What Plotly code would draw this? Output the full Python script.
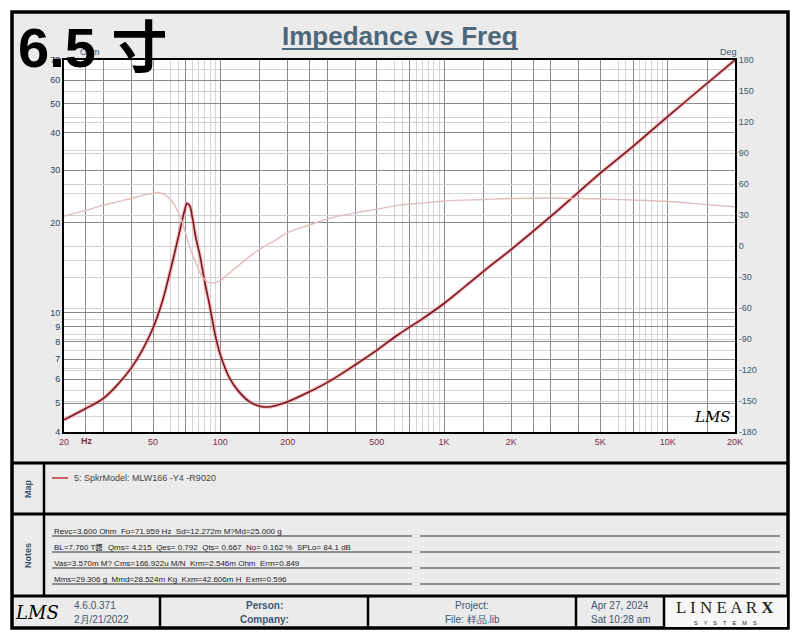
import plotly.graph_objects as go

# impedance magnitude (Hz, Ohm)
imp_freq = [20, 25, 30, 35, 40, 45, 50, 55, 60, 63, 66, 69, 71, 73, 75, 78, 81,
            85, 90, 95, 100, 110, 120, 135, 150, 165, 180, 200, 250, 300, 400,
            500, 630, 800, 1000, 1250, 1600, 2000, 3000, 5000, 7000, 10000,
            14000, 20000]
imp_ohm = [4.39, 4.79, 5.18, 5.80, 6.55, 7.55, 8.9, 10.9, 14.0, 16.3, 18.9,
           21.8, 23.2, 22.8, 20.8, 17.6, 15.6, 12.8, 10.4, 8.4, 7.25, 6.05,
           5.5, 5.05, 4.88, 4.85, 4.92, 5.05, 5.45, 5.85, 6.7, 7.5, 8.5, 9.55,
           10.75, 12.3, 14.3, 16.3, 21.0, 29.3, 36.0, 45.3, 56.0, 70.0]

# impedance phase (Hz, deg)
phase_freq = [20, 25, 30, 35, 40, 45, 50, 53, 56, 60, 63, 66, 70, 72, 75, 78,
              82, 86, 90, 95, 100, 103, 114, 132, 150, 172, 200, 250, 300, 400,
              500, 630, 800, 1000, 1500, 2000, 3000, 5000, 7000, 10000, 14000,
              20000]
phase_deg = [29, 34.5, 39.5, 43, 46, 49, 51, 51.5, 50, 45, 38, 29, 12, 3, -8,
             -17, -28, -33.5, -35.5, -35.5, -33.5, -31.3, -23.2, -12, -3, 4.2,
             13, 20.3, 26, 32, 35.5, 39.5, 41.5, 43.5, 45, 46, 46.5, 45.5, 44.5,
             43, 40.5, 38]

x_grid_major = [20, 25, 30, 40, 50, 70, 100, 150, 200, 250, 300, 400, 500, 700,
                1000, 1500, 2000, 2500, 3000, 4000, 5000, 7000, 10000, 15000, 20000]
x_labels = {20: "20", 50: "50", 100: "100", 200: "200", 500: "500", 1000: "1K",
            2000: "2K", 5000: "5K", 10000: "10K", 20000: "20K"}
x_grid_minor = [60, 65, 75, 80, 85, 90, 95, 600, 650, 750, 800, 850, 900, 950,
                6000, 6500, 7500, 8000, 8500, 9000, 9500]

y_ticks = [4, 5, 6, 7, 8, 9, 10, 20, 30, 40, 50, 60, 70]
y_minor = [4.5, 5.5, 6.5, 7.5, 8.5, 9.5, 15, 25, 35, 45, 55, 65]
deg_ticks = list(range(-180, 181, 30))

notes = [
    "Revc=3.600 Ohm  Fo=71.959 Hz  Sd=12.272m M?Md=25.000 g",
    "BL=7.760 T醬  Qms= 4.215  Qes= 0.792  Qts= 0.667  No= 0.162 %  SPLo= 84.1 dB",
    "Vas=3.570m M? Cms=166.922u M/N  Krm=2.546m Ohm  Erm=0.849",
    "Mms=29.306 g  Mmd=28.524m Kg  Kxm=42.606m H  Exm=0.596",
]

FONT = "Liberation Sans"
BLUE = "#3b5670"


# page pixel (as in the reference) -> paper coords of the plot area
def px_x(p):
    return (p - 64) / 671


def px_y(p):
    return (432 - p) / 372


fig = go.Figure()
fig.add_trace(go.Scatter(x=imp_freq, y=imp_ohm, mode="lines", line_shape="spline",
                         line=dict(color="rgba(236,150,150,0.55)", width=4, smoothing=1),
                         hoverinfo="skip", showlegend=False))
fig.add_trace(go.Scatter(x=imp_freq, y=imp_ohm, mode="lines", line_shape="spline",
                         line=dict(color="#7d1520", width=1.6, smoothing=1),
                         showlegend=False))
fig.add_trace(go.Scatter(x=phase_freq, y=phase_deg, yaxis="y2", mode="lines",
                         line_shape="spline",
                         line=dict(color="#e3bcbc", width=1.4, smoothing=1),
                         showlegend=False))

shapes = []
# panel background and frame
shapes.append(dict(type="rect", xref="paper", yref="paper", layer="below",
                   x0=px_x(12), x1=px_x(788), y0=px_y(12), y1=px_y(628),
                   fillcolor="#ebebeb", line=dict(color="black", width=3.5)))
shapes.append(dict(type="rect", xref="paper", yref="paper", layer="below",
                   x0=0, x1=1, y0=0, y1=1, fillcolor="white", line=dict(width=0)))
# LinearX box
shapes.append(dict(type="rect", xref="paper", yref="paper", layer="below",
                   x0=px_x(665), x1=px_x(787), y0=px_y(597), y1=px_y(627),
                   fillcolor="#f7f7f7", line=dict(width=0)))
for yy in (463, 514, 596):
    shapes.append(dict(type="line", xref="paper", yref="paper",
                       x0=px_x(12), x1=px_x(788), y0=px_y(yy), y1=px_y(yy),
                       line=dict(color="black", width=3)))
shapes.append(dict(type="line", xref="paper", yref="paper",
                   x0=px_x(44), x1=px_x(44), y0=px_y(463), y1=px_y(596),
                   line=dict(color="black", width=2.5)))
for xx in (160, 368, 576, 664):
    shapes.append(dict(type="line", xref="paper", yref="paper",
                       x0=px_x(xx), x1=px_x(xx), y0=px_y(596), y1=px_y(628),
                       line=dict(color="black", width=2.5)))
# note underlines
for i in range(4):
    yy = 536 + i * 16
    shapes.append(dict(type="line", xref="paper", yref="paper",
                       x0=px_x(52), x1=px_x(412), y0=px_y(yy), y1=px_y(yy),
                       line=dict(color="#333333", width=1)))
    shapes.append(dict(type="line", xref="paper", yref="paper",
                       x0=px_x(420), x1=px_x(780), y0=px_y(yy), y1=px_y(yy),
                       line=dict(color="#333333", width=1)))
# title underline
shapes.append(dict(type="line", xref="paper", yref="paper",
                   x0=px_x(282), x1=px_x(518), y0=px_y(49), y1=px_y(49),
                   line=dict(color="#4b6779", width=2)))
# legend swatch in map panel
shapes.append(dict(type="line", xref="paper", yref="paper",
                   x0=px_x(52), x1=px_x(68), y0=px_y(478), y1=px_y(478),
                   line=dict(color="#c0303a", width=1.5)))

annotations = []


def note(x, y, text, size=9, color="#333333", xanchor="left", **kw):
    annotations.append(dict(x=px_x(x), y=px_y(y), xref="paper", yref="paper",
                            text=text, showarrow=False, xanchor=xanchor,
                            yanchor="middle", font=dict(family=kw.pop("family", FONT),
                                                        size=size, color=color), **kw))


note(78, 52, "Ohm", size=9, color=BLUE)
note(400, 36, "<b>Impedance vs Freq</b>", size=26, color="#4b6779", xanchor="center")
note(728, 52, "Deg", size=9, color=BLUE, xanchor="center")
note(79, 441, "<b>Hz</b>", size=9, color="#7b2c4a")
note(712, 417, "<i>LMS</i>", size=15, color="black", xanchor="center",
     family="DejaVu Serif")
note(16, 47, "<b>6.5 寸</b>", size=56, color="black",
     family="Liberation Sans, Noto Sans CJK SC")
note(72, 478, "5: SpkrModel: MLW166 -Y4 -R9020", size=9, color="#444444")
note(28, 489, "<b>Map</b>", size=9, color=BLUE, xanchor="center", textangle=-90)
note(28, 556, "<b>Notes</b>", size=9, color=BLUE, xanchor="center", textangle=-90)
for i, line in enumerate(notes):
    note(52, 531 + i * 16, line, size=8, color="#222222")
note(37, 612, "<i>LMS</i>", size=18, color="black", xanchor="center",
     family="DejaVu Serif")
note(72, 605, "4.6.0.371", size=10, color=BLUE)
note(72, 619, "2月/21/2022", size=10, color=BLUE)
note(264, 605, "<b>Person:</b>", size=10, color=BLUE, xanchor="center")
note(264, 619, "<b>Company:</b>", size=10, color=BLUE, xanchor="center")
note(472, 605, "Project:", size=10, color=BLUE, xanchor="center")
note(472, 619, "File: 样品.lib", size=10, color=BLUE, xanchor="center")
note(620, 605, "Apr 27, 2024", size=10, color=BLUE, xanchor="center")
note(620, 619, "Sat 10:28 am", size=10, color=BLUE, xanchor="center")
note(725, 607, "L I N E A R <b>X</b>", size=17, color="#222222",
     xanchor="center", family="Liberation Serif")
note(725, 623, "S    Y    S    T    E    M    S", size=5.5,
     color="#222222", xanchor="center")

# the page body has an 8px margin, so the plot area sits at reference 64..735 x 60..432
fig.update_layout(
    width=800, height=640,
    margin=dict(l=56, r=73, t=52, b=216, pad=0),
    paper_bgcolor="white", plot_bgcolor="white",
    shapes=shapes, annotations=annotations,
    xaxis=dict(type="log", range=[1.30103, 4.30103],
               tickvals=x_grid_major,
               ticktext=[x_labels.get(v, "") for v in x_grid_major],
               tickfont=dict(family=FONT, size=9, color="#7b2c4a"),
               showgrid=True, gridcolor="#8a8a8a", gridwidth=1,
               minor=dict(tickvals=x_grid_minor, showgrid=True,
                          gridcolor="#d6d6d6", gridwidth=1),
               showline=True, linecolor="black", linewidth=2, mirror=True,
               ticks="", zeroline=False),
    yaxis=dict(type="log", range=[0.60206, 1.845098],
               tickvals=y_ticks, ticktext=[str(v) for v in y_ticks],
               tickfont=dict(family=FONT, size=9, color="#2b4460"),
               showgrid=True, gridcolor="#8a8a8a", gridwidth=1,
               minor=dict(tickvals=y_minor, showgrid=True,
                          gridcolor="#d6d6d6", gridwidth=1),
               showline=True, linecolor="black", linewidth=2, mirror=True,
               ticks="", zeroline=False),
    yaxis2=dict(overlaying="y", side="right", range=[-180, 180],
                tickvals=deg_ticks, ticktext=[str(v) for v in deg_ticks],
                tickfont=dict(family=FONT, size=9, color="#3a5a6a"),
                showgrid=True, gridcolor="#cfcfcf", gridwidth=1,
                showline=True, linecolor="black", linewidth=2,
                ticks="", zeroline=False),
)

fig.write_html("out.html")
